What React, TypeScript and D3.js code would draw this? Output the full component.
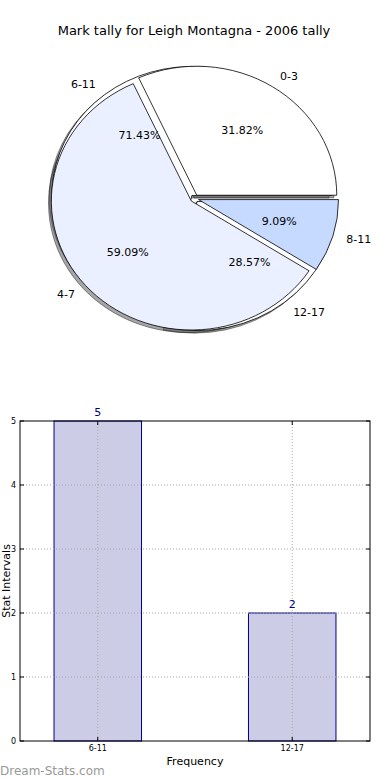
import React from 'react';
import * as d3 from 'd3';

// pie data (two pies drawn on the same axes)
const outerLabels = ['0-3', '4-7', '8-11'];
const outerValues = [7, 13, 2];
const outerColors = ['#ffffff', '#eaf0ff', '#c6d9ff'];
const innerLabels = ['6-11', '12-17'];
const innerValues = [5, 2];
const innerColors = ['#ffffff', '#ffffff'];

// bar data
const barCategories = ['6-11', '12-17'];
const barValues = [5, 2];
const yTicks = [0, 1, 2, 3, 4, 5];

const FONT = 'DejaVu Sans, sans-serif';

type Slice = { label: string; value: number; color: string };

const pieCfg = { cx: 194.5, cy: 198.5, rx: 140, ry: 129, explode: 0.03 };

const makeArcs = (labels: string[], values: number[], colors: string[]) => {
  const data: Slice[] = labels.map((l, i) => ({ label: l, value: values[i], color: colors[i] }));
  // matplotlib style: start at 3 o'clock, counterclockwise
  return d3
    .pie<Slice>()
    .sort(null)
    .value((d) => d.value)
    .startAngle(Math.PI / 2)
    .endAngle(Math.PI / 2 - 2 * Math.PI)(data);
};

const arcGen = d3.arc<d3.PieArcDatum<Slice>>().innerRadius(0).outerRadius(1);

const Pie = () => {
  const { cx, cy, rx, ry, explode } = pieCfg;
  const outer = makeArcs(outerLabels, outerValues, outerColors);
  const inner = makeArcs(innerLabels, innerValues, innerColors);
  const total = (arr: number[]) => d3.sum(arr);
  const mid = (a: d3.PieArcDatum<Slice>) => (a.startAngle + a.endAngle) / 2;
  const off = (a: d3.PieArcDatum<Slice>) => `translate(${explode * Math.sin(mid(a))},${-explode * Math.cos(mid(a))})`;
  const at = (a: d3.PieArcDatum<Slice>, r: number) => [
    cx + rx * (explode + r) * Math.sin(mid(a)),
    cy - ry * (explode + r) * Math.cos(mid(a)),
  ];
  const all = [...inner, ...outer];

  const wedge = (a: d3.PieArcDatum<Slice>, key: string) => (
    <path
      key={key}
      d={arcGen(a) || ''}
      transform={off(a)}
      fill={a.data.color}
      stroke="#000"
      strokeWidth={0.8}
      vectorEffect="non-scaling-stroke"
    />
  );

  const labels = (arcs: d3.PieArcDatum<Slice>[], vals: number[], prefix: string) =>
    arcs.map((a, i) => {
      const [lx, ly] = at(a, 1.1);
      const [px, py] = at(a, 0.6);
      return (
        <g key={prefix + i}>
          <text x={lx} y={ly} dy="0.35em" fontSize={11} textAnchor={lx > cx ? 'start' : 'end'}>
            {a.data.label}
          </text>
          <text x={px} y={py} dy="0.35em" fontSize={11} textAnchor="middle">
            {`${((a.data.value / total(vals)) * 100).toFixed(2)}%`}
          </text>
        </g>
      );
    });

  return (
    <g fontFamily={FONT}>
      <g transform={`translate(${cx - 0.02 * rx},${cy + 0.02 * ry}) scale(${rx},${ry})`}>
        {all.map((a, i) => (
          <path
            key={'s' + i}
            d={arcGen(a) || ''}
            transform={off(a)}
            fill="rgba(77,77,77,0.5)"
            stroke="rgba(0,0,0,0.5)"
            strokeWidth={0.8}
            vectorEffect="non-scaling-stroke"
          />
        ))}
      </g>
      <g transform={`translate(${cx},${cy}) scale(${rx},${ry})`}>
        {inner.map((a, i) => wedge(a, 'i' + i))}
        {outer.map((a, i) => wedge(a, 'o' + i))}
      </g>
      {labels(inner, innerValues, 'li')}
      {labels(outer, outerValues, 'lo')}
    </g>
  );
};

const Bars = () => {
  const left = 20;
  const right = 370;
  const top = 421;
  const bottom = 741;
  const x = d3.scaleLinear().domain([-0.4, 1.4]).range([left, right]);
  const y = d3.scaleLinear().domain([0, 5]).range([bottom, top]);
  const bw = 0.45;
  const grid = { stroke: '#aaaaaa', strokeWidth: 1, strokeDasharray: '1,2' };

  return (
    <g fontFamily={FONT}>
      {barValues.map((v, i) => (
        <rect
          key={'b' + i}
          x={x(i - bw / 2)}
          y={y(v)}
          width={x(bw) - x(0)}
          height={y(0) - y(v)}
          fill="#cccce6"
          stroke="#000080"
          strokeWidth={1}
        />
      ))}
      {yTicks.slice(1, -1).map((t) => (
        <line key={'gy' + t} x1={left} x2={right} y1={y(t)} y2={y(t)} {...grid} />
      ))}
      {barCategories.map((c, i) => (
        <line key={'gx' + i} x1={x(i)} x2={x(i)} y1={top} y2={bottom} {...grid} />
      ))}
      <rect x={left} y={top} width={right - left} height={bottom - top} fill="none" stroke="#000" strokeWidth={1} />
      {yTicks.map((t) => (
        <g key={'ty' + t}>
          <line x1={left} x2={left + 4} y1={y(t)} y2={y(t)} stroke="#000" />
          <line x1={right - 4} x2={right} y1={y(t)} y2={y(t)} stroke="#000" />
          <text x={left - 4} y={y(t)} dy="0.35em" fontSize={8} textAnchor="end">
            {t}
          </text>
        </g>
      ))}
      {barCategories.map((c, i) => (
        <g key={'tx' + i}>
          <line x1={x(i)} x2={x(i)} y1={bottom} y2={bottom - 4} stroke="#000" />
          <line x1={x(i)} x2={x(i)} y1={top} y2={top + 4} stroke="#000" />
          <text x={x(i)} y={bottom + 10} fontSize={8} textAnchor="middle">
            {c}
          </text>
        </g>
      ))}
      {barValues.map((v, i) => (
        <text key={'v' + i} x={x(i)} y={y(v) - 5} fontSize={11} textAnchor="middle" fill="#000080">
          {v}
        </text>
      ))}
      <text x={(left + right) / 2} y={765} fontSize={11} textAnchor="middle">
        Frequency
      </text>
      <text transform={`translate(10,${(top + bottom) / 2}) rotate(-90)`} fontSize={11} textAnchor="middle">
        Stat Intervals
      </text>
    </g>
  );
};

export default function App() {
  return (
    <svg
      width={390}
      height={780}
      style={{ position: 'absolute', left: 0, top: 0, background: '#fff' }}
    >
      <rect width={390} height={780} fill="#fff" />
      <text x={194} y={35} fontFamily={FONT} fontSize={13} textAnchor="middle">
        Mark tally for Leigh Montagna - 2006 tally
      </text>
      <Pie />
      <Bars />
      <text x={0} y={775} fontFamily={FONT} fontSize={12} fill="#999999">
        Dream-Stats.com
      </text>
    </svg>
  );
}
